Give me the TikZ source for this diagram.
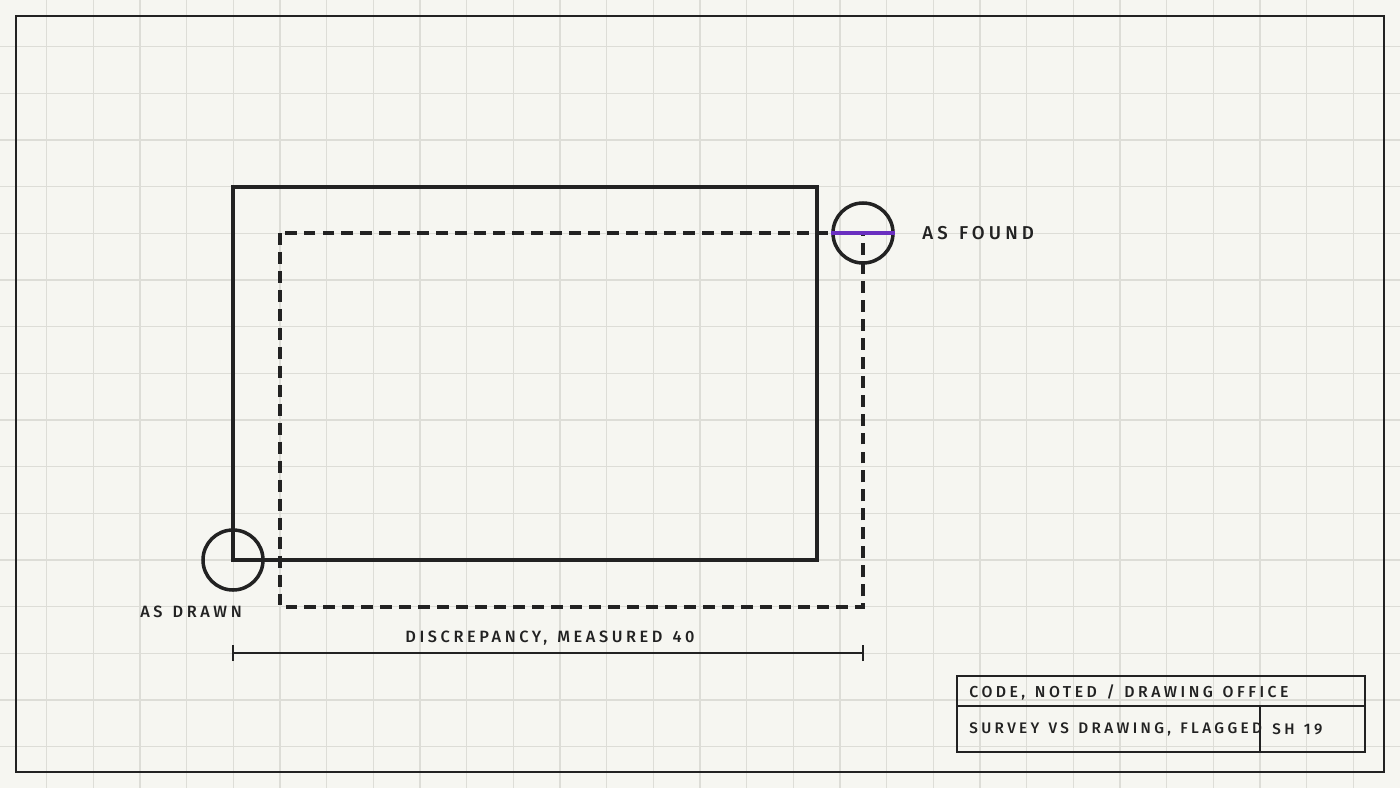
\documentclass[tikz,border=0pt]{standalone}
\usepackage{fontspec}
\setmainfont{Fira Sans}[UprightFont=* Medium, LetterSpace=22, WordSpace=1.3]
\usepackage{tikz}

\definecolor{paper}{HTML}{F6F6F1}
\definecolor{gridline}{HTML}{DDDDD7}
\definecolor{ink}{HTML}{222222}
\definecolor{flag}{HTML}{6A2FC0}

\tikzset{
    label text/.style={inner sep=0pt, text=ink, font=\fontsize{9.3}{11}\selectfont},
    big text/.style={inner sep=0pt, text=ink, font=\fontsize{10.6}{12}\selectfont},
    block text/.style={inner sep=0pt, text=ink, font=\fontsize{9}{11}\selectfont},
    marker/.style={draw=ink, line width=2pt, circle, minimum size=60*0.02cm, inner sep=0pt},
}

\begin{document}
\begin{tikzpicture}[x=0.02cm, y=-0.02cm]
    \useasboundingbox (0,0) rectangle (1400,788);
    \fill[paper] (0,0) rectangle (1400,788);

    % grid
    \foreach \i in {1,...,29}
        \draw[gridline, line width=0.6pt] (\i*46.667,0) -- (\i*46.667,788);
    \foreach \j in {1,...,16}
        \draw[gridline, line width=0.6pt] (0,\j*46.667) -- (1400,\j*46.667);

    % sheet border
    \draw[ink, line width=1.6pt] (16,16) rectangle (1384,772);

    % as drawn / as found outlines
    \draw[ink, line width=2pt] (233,187) rectangle (817,560);
    \draw[ink, line width=2pt, dash pattern=on 6.8pt off 4pt] (280,233) rectangle (863,607);

    \node[marker] at (233,560) (drawn) {};
    \node[marker] at (863,233) (found) {};
    \draw[flag, line width=2.6pt] (found.west) -- (found.east);

    \node[big text, anchor=west] at (922,233) (foundlbl) {AS FOUND};
    \node[label text, anchor=west] at (140,612) (drawnlbl) {AS DRAWN};

    % dimension
    \coordinate (dimL) at (233,653);
    \coordinate (dimR) at (863,653);
    \draw[ink, line width=1pt] (dimL) -- (dimR);
    \draw[ink, line width=1pt] ([yshift=-8*0.02cm]dimL) -- ([yshift=8*0.02cm]dimL);
    \draw[ink, line width=1pt] ([yshift=-8*0.02cm]dimR) -- ([yshift=8*0.02cm]dimR);
    \node[label text, anchor=west] at (405,638) (dimlbl) {DISCREPANCY, MEASURED 40};

    % title block
    \draw[ink, line width=1.6pt] (957,676) rectangle (1365,752);
    \draw[ink, line width=1.2pt] (957,706) -- (1365,706);
    \draw[ink, line width=1.2pt] (1260,706) -- (1260,752);
    \node[block text, anchor=west] at (969,692) (office) {CODE, NOTED / DRAWING OFFICE};
    \node[block text, anchor=west, font=\fontsize{8.7}{11}\selectfont] at (969,729) (survey) {SURVEY VS DRAWING, FLAGGED};
    \node[block text, anchor=west, font=\fontsize{8.7}{11}\selectfont] at (1272,729) (sheet) {SH 19};
\end{tikzpicture}
\end{document}
